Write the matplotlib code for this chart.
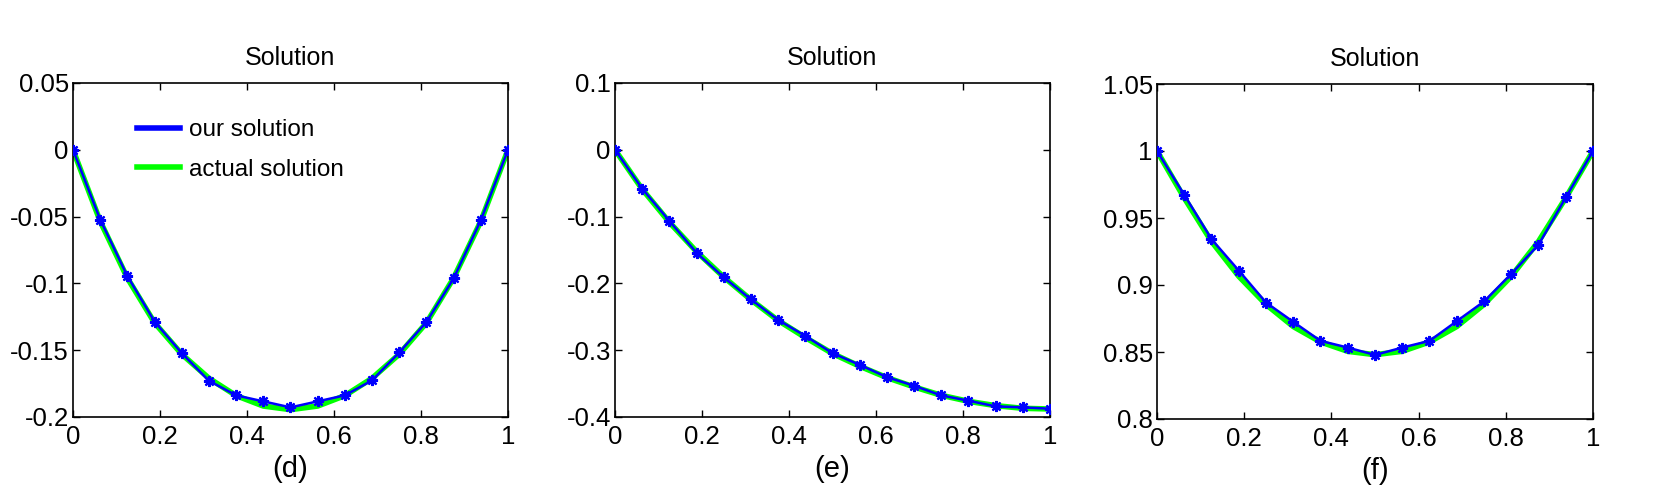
import numpy as np
import matplotlib
matplotlib.use("Agg")
import matplotlib.pyplot as plt

plt.rcParams['font.family'] = ['Liberation Sans', 'DejaVu Sans']

# grid points, 0:1/16:1
x = [0, 0.0625, 0.125, 0.1875, 0.25, 0.3125, 0.375, 0.4375, 0.5,
     0.5625, 0.625, 0.6875, 0.75, 0.8125, 0.875, 0.9375, 1.0]

# (d)
our_d = [0, -0.0522, -0.0945, -0.1286, -0.1522, -0.1729, -0.1838, -0.1883, -0.1928,
         -0.1883, -0.1838, -0.1726, -0.1517, -0.1289, -0.0963, -0.0527, 0]
act_d = [0, -0.0535, -0.0960, -0.1295, -0.1530, -0.1710, -0.1840, -0.1918, -0.1945,
         -0.1918, -0.1840, -0.1710, -0.1530, -0.1295, -0.0960, -0.0535, 0]

# (e)
our_e = [0, -0.0582, -0.1065, -0.1542, -0.1910, -0.2239, -0.2547, -0.2786, -0.3045,
         -0.3219, -0.3403, -0.3532, -0.3677, -0.3756, -0.3841, -0.3856, -0.3876]
act_e = [0, -0.0590, -0.1085, -0.1525, -0.1905, -0.2245, -0.2555, -0.2810, -0.3050,
         -0.3240, -0.3410, -0.3550, -0.3675, -0.3765, -0.3830, -0.3870, -0.3880]

# (f)
our_f = [1.0, 0.9673, 0.9342, 0.9108, 0.8869, 0.8725, 0.8583, 0.8533, 0.8478,
         0.8533, 0.8583, 0.8730, 0.8877, 0.9083, 0.9300, 0.9653, 1.0]
act_f = [1.0, 0.9650, 0.9325, 0.9065, 0.8855, 0.8690, 0.8575, 0.8505, 0.8480,
         0.8505, 0.8575, 0.8690, 0.8855, 0.9065, 0.9325, 0.9650, 1.0]

panels = [
    (our_d, act_d, (-0.2, 0.05), [0.05, 0, -0.05, -0.1, -0.15, -0.2], ['0.05', '0', '-0.05', '-0.1', '-0.15', '-0.2'], '(d)'),
    (our_e, act_e, (-0.4, 0.1), [0.1, 0, -0.1, -0.2, -0.3, -0.4], ['0.1', '0', '-0.1', '-0.2', '-0.3', '-0.4'], '(e)'),
    (our_f, act_f, (0.8, 1.05), [1.05, 1, 0.95, 0.9, 0.85, 0.8], ['1.05', '1', '0.95', '0.9', '0.85', '0.8'], '(f)'),
]
xticks = [0, 0.2, 0.4, 0.6, 0.8, 1]
xticklabels = ['0', '0.2', '0.4', '0.6', '0.8', '1']

rects = [
    [73 / 1674, 1 - 417 / 504, 435 / 1674, 334 / 504],
    [615 / 1674, 1 - 417 / 504, 435 / 1674, 334 / 504],
    [1157 / 1674, 1 - 419 / 504, 436 / 1674, 335 / 504],
]

fig = plt.figure(figsize=(16.74, 5.04), dpi=100)

for i, (our, act, ylim, yt, ytl, cap) in enumerate(panels):
    ax = fig.add_axes(rects[i])
    ax.plot(x, act, color='#00ff00', lw=4, label='actual solution', zorder=2)
    ax.plot(x, our, color='#0000ff', lw=1.8, marker=(8, 2, 0), ms=8, mew=1.6,
            label='our solution', zorder=3)
    ax.set_xlim(0, 1)
    ax.set_ylim(*ylim)
    ax.set_xticks(xticks)
    ax.set_xticklabels(xticklabels)
    ax.set_yticks(yt)
    ax.set_yticklabels(ytl)
    ax.tick_params(direction='in', top=True, right=True, length=5, width=1,
                   labelsize=18.5, pad=3)
    ax.tick_params(axis='x', pad=6)
    for s in ax.spines.values():
        s.set_linewidth(1.2)
    ax.set_title('Solution', fontsize=18, pad=13)
    ax.set_xlabel(cap, fontsize=21, labelpad=4)
    if i == 0:
        h, l = ax.get_legend_handles_labels()
        leg = ax.legend(h[::-1], l[::-1], loc='upper left', bbox_to_anchor=(0.125, 0.92),
                        frameon=False, fontsize=17.5, handlelength=1.75,
                        handletextpad=0.4, labelspacing=0.72, borderaxespad=0)
        for ln in leg.get_lines():
            ln.set_linewidth(4)
            ln.set_marker('')

fig.savefig('out.png', dpi=100)
